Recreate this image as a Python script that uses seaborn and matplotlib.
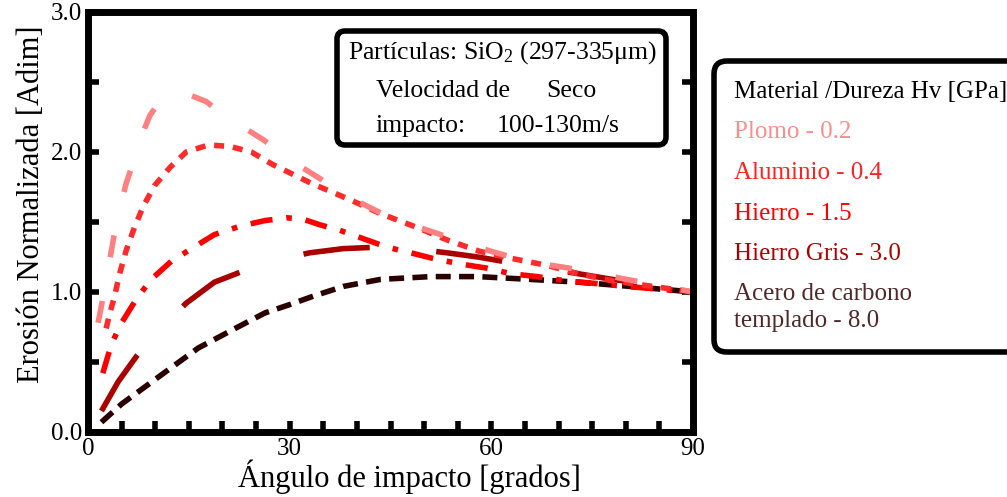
# %%
# ===== Libraries =====
import numpy as np
import pandas as pd
import matplotlib
matplotlib.use('Agg')
import matplotlib.pyplot as plt
from matplotlib.lines import Line2D
from matplotlib.patches import FancyBboxPatch
from matplotlib.transforms import IdentityTransform
import seaborn as sns

sns.set_theme(style='white')
plt.rcParams['font.family'] = ['Liberation Serif', 'DejaVu Serif']
plt.rcParams['mathtext.fontset'] = 'custom'
plt.rcParams['mathtext.rm'] = 'Liberation Serif'
plt.rcParams['mathtext.it'] = 'Liberation Serif:italic'

# %%
# ===== Data =====
plomo_x = [1.5, 2.2, 3.5, 4, 5, 5.7, 6.7, 8, 9.2, 10.9, 13, 15, 17.6, 20, 23, 26, 28.6, 31.5,
           34.5, 37, 40, 45, 50, 54.3, 60, 63.8, 69, 74.3, 79, 83.6, 90]
plomo_y = [0.78, 0.95, 1.3, 1.44, 1.65, 1.78, 1.92, 2.12, 2.26, 2.38, 2.42, 2.41, 2.36, 2.27,
           2.18, 2.09, 2.0, 1.9, 1.81, 1.73, 1.65, 1.53, 1.45, 1.38, 1.29, 1.24, 1.19, 1.15,
           1.1, 1.06, 1.0]

aluminio_x = [2.7, 3.1, 4, 4.7, 5.7, 6.9, 8.2, 9.9, 12.2, 14.6, 17.9, 21.1, 24.3, 27.5, 30.5,
              33.5, 36.5, 39.4, 43.5, 49, 53.5, 58.3, 63, 68.3, 73, 78, 84, 90]
aluminio_y = [0.74, 0.82, 0.98, 1.13, 1.3, 1.46, 1.61, 1.76, 1.89, 2.0, 2.05, 2.04, 2.0, 1.91,
              1.84, 1.77, 1.71, 1.65, 1.56, 1.46, 1.37, 1.29, 1.24, 1.19, 1.13, 1.08, 1.04, 1.0]

hierro_x = [2.2, 3.5, 5, 7.2, 9.4, 12.4, 15.4, 18.8, 22.6, 26.3, 29.6, 32, 34.5, 37.5, 41,
            44.5, 48, 51.3, 55.4, 59.4, 63, 66.8, 71, 75.7, 80, 85, 90]
hierro_y = [0.42, 0.63, 0.78, 0.95, 1.09, 1.22, 1.31, 1.41, 1.47, 1.51, 1.53, 1.52, 1.48, 1.44,
            1.38, 1.32, 1.28, 1.24, 1.2, 1.17, 1.13, 1.11, 1.08, 1.06, 1.04, 1.02, 1.0]

gris_x = [2, 4.5, 7.2, 10, 14.6, 18.8, 23.1, 28, 33, 38, 43, 48, 53.4, 58, 62.8, 68, 73, 78, 83, 90]
gris_y = [0.15, 0.36, 0.54, 0.7, 0.92, 1.07, 1.15, 1.23, 1.28, 1.31, 1.32, 1.31, 1.28, 1.25,
          1.21, 1.17, 1.13, 1.09, 1.06, 1.0]

acero_x = [2, 5, 10.4, 16.4, 22.3, 26.3, 30, 33.5, 38, 43.5, 51, 58, 65.8, 73, 80.6, 90]
acero_y = [0.07, 0.2, 0.39, 0.6, 0.75, 0.85, 0.91, 0.97, 1.04, 1.09, 1.11, 1.11, 1.09, 1.07,
           1.04, 1.0]

labels = ['Plomo - 0.2', 'Aluminio - 0.4', 'Hierro - 1.5', 'Hierro Gris - 3.0',
          'Acero de carbono\ntemplado - 8.0']
line_colors = ['#ff8080', '#ff2a2a', '#ff0000', '#aa0000', '#2a0000']
text_colors = ['#ff8c8c', '#ff2020', '#ff0000', '#b00000', '#502828']
styles = [(0, (4, 8)), (0, (1.8, 1.6)), (0, (4, 2.5, 1, 2.5)), (0, (12, 12)), (0, (2.7, 1.5))]

series = {
    labels[0]: (plomo_x, plomo_y),
    labels[1]: (aluminio_x, aluminio_y),
    labels[2]: (hierro_x, hierro_y),
    labels[3]: (gris_x, gris_y),
    labels[4]: (acero_x, acero_y),
}

# %%
# ===== Plot =====
W, H = 1007, 497
fig = plt.figure(figsize=(W / 100, H / 100), dpi=100)
ax = fig.add_axes([88 / W, 1 - 432 / H, 605 / W, 420 / H])

for i in list(range(len(labels)))[::-1]:
    xs, ys = series[labels[i]]
    df = pd.DataFrame({'angulo': xs, 'erosion': ys})
    sns.lineplot(data=df, x='angulo', y='erosion', ax=ax, color=line_colors[i],
                 linewidth=4, linestyle=styles[i])

ax.set_xlim(0, 90)
ax.set_ylim(0, 3.0)
ax.set_xticks([0, 30, 60, 90])
ax.set_xticks(np.arange(0, 91, 5), minor=True)
ax.set_yticks([0, 1, 2, 3])
ax.set_yticklabels(['0.0', '1.0', '2.0', '3.0'])
ax.set_yticks(np.arange(0, 3.01, 0.5), minor=True)
ax.tick_params(which='both', direction='in', length=8, width=4, color='black',
               bottom=True, left=True, right=True, top=False, labelsize=18, pad=4,
               labelcolor='black')
for sp in ax.spines.values():
    sp.set_color('black')
    sp.set_linewidth(5)

ax.set_xlabel('Ángulo de impacto [grados]', fontsize=22, color='black', labelpad=0)
ax.set_ylabel('Erosión Normalizada [Adim]', fontsize=22, color='black', labelpad=4)
ax.xaxis.label.set_x((409 - 88) / 605)
ax.yaxis.label.set_y((432 - 204) / 420)

# ===== Info box (pixel coordinates) =====
def px(x, y):
    return x, H - y

box = FancyBboxPatch(px(337, 145), 329, 114, boxstyle='round,pad=0,rounding_size=8',
                     transform=IdentityTransform(), fc='white', ec='black', lw=4, zorder=5)
fig.patches.append(box)
info = [(348, 53, 'Partículas: SiO$_2$ (297-335μm)'),
        (376, 91, 'Velocidad de'), (546, 91, 'Seco'),
        (376, 126, 'impacto:'), (497, 126, '100-130m/s')]
for x, y, s in info:
    fig.text(x / W, 1 - y / H, s, fontsize=18.5, ha='left', va='center', color='black', zorder=6)

# ===== Legend =====
handles = [Line2D([], [], color='none') for _ in labels]
leg = fig.legend(handles, labels, loc='upper left', bbox_to_anchor=(714 / W, 1 - 61 / H),
                 title='Material /Dureza Hv [GPa]', fontsize=18, title_fontsize=18,
                 handlelength=0, handletextpad=0, labelspacing=0.72, borderpad=0.8,
                 borderaxespad=0, frameon=True, fancybox=True, framealpha=1)
leg._legend_box.align = 'left'
frame = leg.get_frame()
frame.set_edgecolor('black')
frame.set_linewidth(4)
frame.set_boxstyle('round,pad=0,rounding_size=0.5')
for t, c in zip(leg.get_texts(), text_colors):
    t.set_color(c)
    t.set_linespacing(1.3)
leg.get_title().set_color('black')

fig.savefig('out.png', dpi=100)
